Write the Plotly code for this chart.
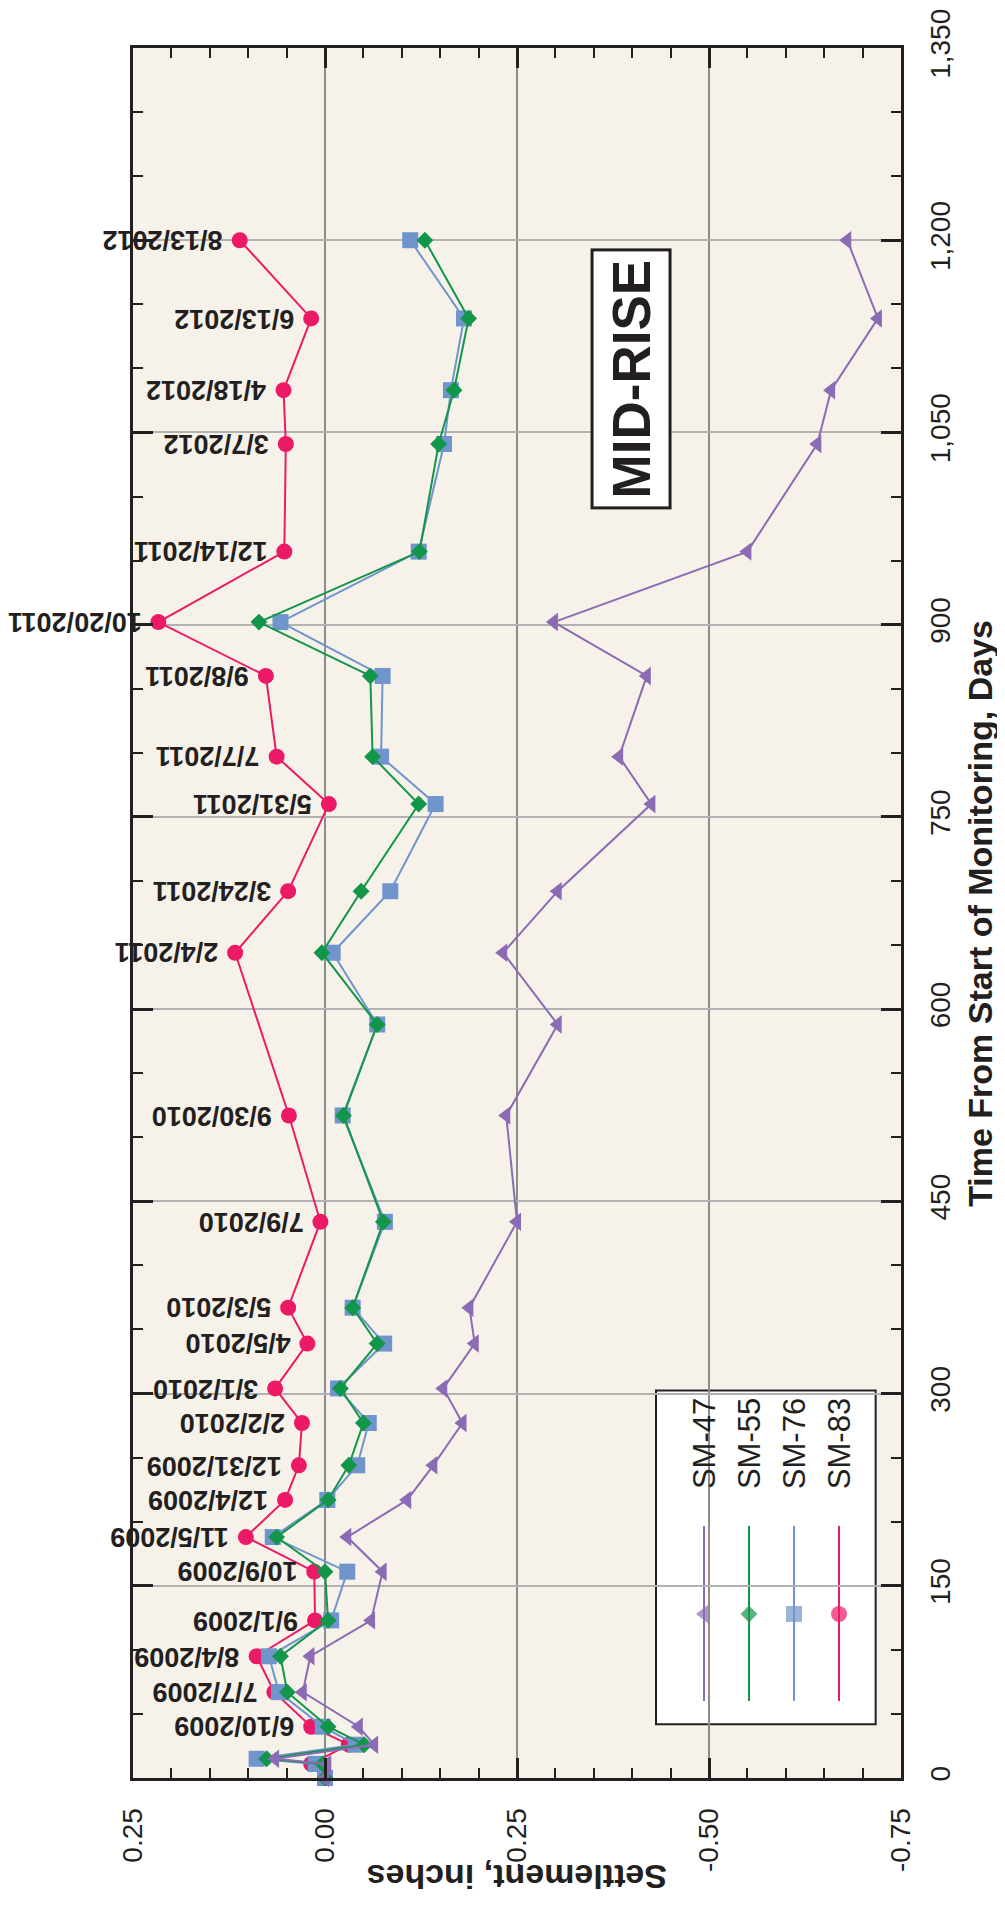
import plotly.graph_objects as go

# days from start of monitoring
days = [0, 11, 15, 26, 40, 67, 95, 123, 161, 188, 217, 244, 277, 304, 339, 367,
        434, 517, 588, 644, 692, 760, 797, 860, 902, 957, 1041, 1083, 1139, 1200]

date_labels = ['', '', '', '', '6/10/2009', '7/7/2009', '8/4/2009', '9/1/2009',
               '10/9/2009', '11/5/2009', '12/4/2009', '12/31/2009', '2/2/2010',
               '3/1/2010', '4/5/2010', '5/3/2010', '7/9/2010', '9/30/2010', '',
               '2/4/2011', '3/24/2011', '5/31/2011', '7/7/2011', '9/8/2011',
               '10/20/2011', '12/14/2011', '3/7/2012', '4/18/2012', '6/13/2012',
               '8/13/2012']

# settlement, inches
sm47 = [0.0, -0.003, 0.065, -0.064, -0.044, 0.029, 0.019, -0.060, -0.075, -0.029,
        -0.107, -0.141, -0.179, -0.154, -0.195, -0.188, -0.250, -0.236, -0.303,
        -0.232, -0.303, -0.425, -0.383, -0.419, -0.298, -0.550, -0.641, -0.659,
        -0.720, -0.680]
sm55 = [0.0, 0.003, 0.076, -0.051, -0.004, 0.049, 0.058, -0.004, 0.000, 0.063,
        -0.004, -0.031, -0.050, -0.020, -0.068, -0.036, -0.076, -0.024, -0.068,
        0.004, -0.047, -0.122, -0.062, -0.059, 0.086, -0.123, -0.148, -0.168,
        -0.187, -0.130]
sm76 = [0.0, 0.012, 0.089, -0.040, 0.003, 0.060, 0.073, -0.008, -0.029, 0.068,
        -0.003, -0.042, -0.057, -0.017, -0.077, -0.036, -0.078, -0.023, -0.068,
        -0.010, -0.085, -0.144, -0.073, -0.075, 0.058, -0.122, -0.155, -0.164,
        -0.181, -0.111]
sm83 = [None, 0.018, None, -0.031, 0.018, 0.066, 0.089, 0.013, 0.014, 0.103,
        0.052, 0.034, 0.030, 0.065, 0.023, 0.048, 0.006, 0.047, None,
        0.117, 0.048, -0.005, 0.063, 0.077, 0.217, 0.053, 0.051, 0.054,
        0.018, 0.111]

settle_ticks = [0.25, 0.0, -0.25, -0.5, -0.75]
settle_labels = ['0.25', '0.00', '-0.25', '-0.50', '-0.75']

names = ['SM-47', 'SM-55', 'SM-76', 'SM-83']
values = [sm47, sm55, sm76, sm83]
colors = ['#8b6bb3', '#12964a', '#7094cc', '#ec1a66']
symbols = ['triangle-left', 'diamond', 'square', 'circle']
sizes = [16, 13, 16, 16]

dark = '#231f20'
font = 'Liberation Sans, Arial, sans-serif'

fig = go.Figure()

# draw SM-83 first so SM-47 ends up on top
for i in [3, 2, 1, 0]:
    fig.add_trace(go.Scatter(
        x=values[i], y=days, mode='lines+markers', name=names[i],
        connectgaps=True, cliponaxis=False,
        line=dict(color=colors[i], width=2),
        marker=dict(symbol=symbols[i], size=sizes[i], color=colors[i], line=dict(width=0)),
        showlegend=False))

# date labels next to SM-83 points (upside down like the rest of the page)
for d, v, lab in zip(days, sm83, date_labels):
    if lab and v is not None:
        fig.add_annotation(x=v, y=d, text=lab, showarrow=False, textangle=180,
                           xanchor='right', yanchor='middle', xshift=-15,
                           font=dict(family=font, size=27, color=dark, weight='bold'))

# hand-made legend, rotated
lx0, lx1, ly0, ly1 = 0.681, 0.967, 0.031, 0.224
fig.add_shape(type='rect', xref='paper', yref='paper', x0=lx0, x1=lx1, y0=ly0, y1=ly1,
              fillcolor='white', line=dict(color=dark, width=2), layer='between')
cols = [0.7435, 0.8021, 0.8607, 0.9193]
for i in range(4):
    fig.add_shape(type='line', xref='paper', yref='paper', x0=cols[i], x1=cols[i],
                  y0=0.0445, y1=0.1457, line=dict(color=colors[i], width=2), layer='between')
    fig.add_annotation(x=cols[i], y=0.193, xref='paper', yref='paper', text=names[i],
                       showarrow=False, textangle=-90, xanchor='center', yanchor='middle',
                       font=dict(family=font, size=31, color=dark))
fig.add_trace(go.Scatter(
    x=cols, y=[0.0948] * 4, xaxis='x2', yaxis='y2', mode='markers', showlegend=False,
    cliponaxis=False,
    marker=dict(symbol=symbols, size=sizes, color=colors, line=dict(width=0))))

fig.add_annotation(x=0.6484, y=0.809, xref='paper', yref='paper', text='MID-RISE',
                   showarrow=False, textangle=-90, bgcolor='white', bordercolor=dark,
                   borderwidth=3, borderpad=8, xanchor='center', yanchor='middle',
                   font=dict(family=font, size=53, color=dark, weight='bold'))

# axis titles as annotations (rotated)
fig.add_annotation(x=1.130, y=0.5, xref='paper', yref='paper',
                   text='Time From Start of Monitoring, Days', showarrow=False,
                   textangle=-90, xanchor='right', yanchor='middle',
                   font=dict(family=font, size=34, color=dark, weight='bold'))
fig.add_annotation(x=0.5, y=-0.0694, xref='paper', yref='paper',
                   text='Settlement, inches', showarrow=False, textangle=180,
                   xanchor='center', yanchor='bottom',
                   font=dict(family=font, size=34, color=dark, weight='bold'))

fig.update_layout(
    width=1005, height=1906,
    margin=dict(l=125, r=112, t=40, b=136, autoexpand=False),
    paper_bgcolor='white', plot_bgcolor='#f6f2e9',
    font=dict(family=font, color=dark),
    xaxis=dict(range=[0.25, -0.75], tickmode='array', tickvals=settle_ticks,
               ticktext=settle_labels, tickangle=-90, tickfont=dict(size=28),
               ticks='inside', ticklen=20, tickwidth=3, tickcolor=dark,
               showline=True, linewidth=3, linecolor=dark, mirror='ticks',
               showgrid=True, gridcolor='#8c8c8c', gridwidth=1.5, zeroline=False,
               ticklabelstandoff=16, automargin=False,
               minor=dict(dtick=0.05, tick0=0, ticks='inside', ticklen=10, tickwidth=2,
                          tickcolor=dark, showgrid=False)),
    yaxis=dict(range=[0, 1350], side='right', dtick=150, tickformat=',d', tickangle=-90,
               tickfont=dict(size=28), ticks='inside', ticklen=20, tickwidth=3,
               tickcolor=dark, showline=True, linewidth=3, linecolor=dark, mirror='ticks',
               showgrid=True, gridcolor='#b2b2b2', gridwidth=2, zeroline=False,
               ticklabelstandoff=12, automargin=False,
               minor=dict(dtick=50, ticks='inside', ticklen=10, tickwidth=2,
                          tickcolor=dark, showgrid=False)),
    xaxis2=dict(overlaying='x', range=[0, 1], visible=False),
    yaxis2=dict(overlaying='y', range=[0, 1], visible=False),
)

fig.write_html('out.html')
